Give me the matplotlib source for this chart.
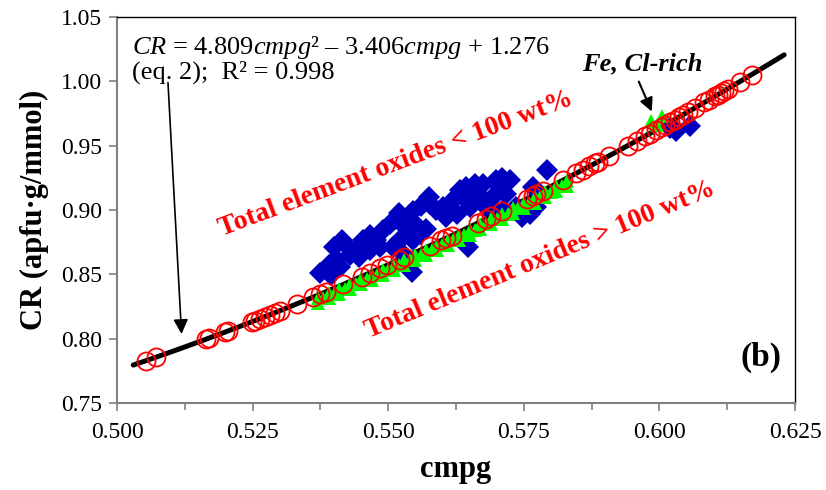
import numpy as np
import matplotlib
matplotlib.use("Agg")
import matplotlib.pyplot as plt

plt.rcParams['font.family'] = ['Liberation Serif', 'DejaVu Serif']
plt.rcParams['mathtext.fontset'] = 'custom'
plt.rcParams['mathtext.rm'] = 'Liberation Serif'
plt.rcParams['mathtext.it'] = 'Liberation Serif:italic'
plt.rcParams['mathtext.bf'] = 'Liberation Serif:bold'

# fit from eq. 2: CR = a*cmpg^2 + b*cmpg + c
fit_a, fit_b, fit_c = 4.809, -3.406, 1.276
fit_range = (0.503, 0.623)

# CR recalculated (red open circles)
calc_x = [0.5054, 0.5071, 0.5164, 0.5170, 0.5199, 0.5205, 0.5248, 0.5254, 0.5263, 0.5273,
          0.5282, 0.5291, 0.5300, 0.5331, 0.5361, 0.5374, 0.5386, 0.5417, 0.5451, 0.5466,
          0.5485, 0.5497, 0.5521, 0.5530, 0.5577, 0.5598, 0.5607, 0.5617, 0.5666, 0.5681,
          0.5690, 0.5709, 0.5755, 0.5767, 0.5773, 0.5785, 0.5822, 0.5847, 0.5859, 0.5871,
          0.5881, 0.5887, 0.5908, 0.5942, 0.5958, 0.5973, 0.5982, 0.5994, 0.6004, 0.6010,
          0.6019, 0.6028, 0.6037, 0.6043, 0.6053, 0.6065, 0.6083, 0.6092, 0.6102, 0.6108,
          0.6114, 0.6120, 0.6126, 0.6148, 0.6170]
calc_y = [0.7830, 0.7855, 0.7996, 0.8005, 0.8051, 0.8060, 0.8130, 0.8140, 0.8155, 0.8171,
          0.8186, 0.8202, 0.8217, 0.8270, 0.8322, 0.8344, 0.8366, 0.8421, 0.8483, 0.8511,
          0.8546, 0.8569, 0.8614, 0.8631, 0.8722, 0.8763, 0.8781, 0.8801, 0.8900, 0.8931,
          0.8950, 0.8989, 0.9086, 0.9112, 0.9125, 0.9150, 0.9231, 0.9286, 0.9313, 0.9339,
          0.9362, 0.9375, 0.9423, 0.9501, 0.9538, 0.9573, 0.9594, 0.9622, 0.9646, 0.9660,
          0.9682, 0.9703, 0.9725, 0.9739, 0.9763, 0.9792, 0.9836, 0.9858, 0.9883, 0.9897,
          0.9912, 0.9927, 0.9942, 0.9997, 1.0052]

# oxide totals < 100 wt% (blue diamonds)
low_x = [0.5375, 0.5390, 0.5395, 0.5400, 0.5414, 0.5426, 0.5404, 0.5429, 0.5441, 0.5454,
         0.5466, 0.5478, 0.5490, 0.5503, 0.5515, 0.5527, 0.5540, 0.5537, 0.5552, 0.5546,
         0.5558, 0.5521, 0.5509, 0.5484, 0.5466, 0.5447, 0.5530, 0.5543, 0.5570, 0.5577,
         0.5589, 0.5601, 0.5607, 0.5619, 0.5632, 0.5638, 0.5626, 0.5644, 0.5650, 0.5666,
         0.5675, 0.5681, 0.5693, 0.5699, 0.5706, 0.5718, 0.5724, 0.5712, 0.5736, 0.5746,
         0.5761, 0.5767, 0.5779, 0.5792, 0.5773, 0.5647, 0.5411, 0.5660, 0.5710, 0.6020,
         0.6031, 0.6056, 0.5520, 0.5545, 0.5560, 0.5575]
low_y = [0.8510, 0.8570, 0.8495, 0.8712, 0.8764, 0.8712, 0.8622, 0.8648, 0.8687, 0.8764,
         0.8803, 0.8764, 0.8842, 0.8894, 0.8933, 0.8894, 0.8920, 0.8842, 0.8881, 0.8764,
         0.8816, 0.8764, 0.8712, 0.8712, 0.8687, 0.8635, 0.8648, 0.8518, 0.8855, 0.9050,
         0.8998, 0.9023, 0.8946, 0.9075, 0.9153, 0.9101, 0.8972, 0.9179, 0.9023, 0.9128,
         0.9205, 0.9023, 0.9101, 0.9231, 0.9179, 0.9128, 0.9231, 0.8998, 0.9023, 0.8946,
         0.8972, 0.9179, 0.9128, 0.9309, 0.9023, 0.8712, 0.8557, 0.9200, 0.9250, 0.9640,
         0.9615, 0.9650, 0.8980, 0.8990, 0.9030, 0.9100]

# oxide totals > 100 wt% (green triangles)
high_x = [0.537, 0.537, 0.538, 0.539, 0.539, 0.540, 0.541, 0.541, 0.542, 0.543, 0.543,
          0.544, 0.545, 0.545, 0.546, 0.547, 0.547, 0.548, 0.549, 0.549, 0.550, 0.551,
          0.551, 0.552, 0.553, 0.553, 0.554, 0.555, 0.555, 0.556, 0.557, 0.557, 0.558,
          0.559, 0.559, 0.560, 0.561, 0.561, 0.562, 0.563, 0.563, 0.564, 0.565, 0.565,
          0.566, 0.567, 0.567, 0.568, 0.569, 0.569, 0.570, 0.571, 0.571, 0.572, 0.573,
          0.573, 0.574, 0.575, 0.575, 0.576, 0.577, 0.577, 0.578, 0.579, 0.579, 0.580,
          0.581, 0.581, 0.582, 0.583, 0.583, 0.5985, 0.5995, 0.6004]
high_y = [0.8317, 0.8277, 0.8315, 0.8353, 0.8313, 0.8351, 0.8389, 0.8349, 0.8387, 0.8425, 0.8385,
          0.8423, 0.8461, 0.8421, 0.8460, 0.8498, 0.8458, 0.8497, 0.8535, 0.8495, 0.8534, 0.8573,
          0.8533, 0.8572, 0.8611, 0.8571, 0.8610, 0.8650, 0.8610, 0.8649, 0.8689, 0.8649, 0.8688,
          0.8728, 0.8688, 0.8727, 0.8767, 0.8727, 0.8767, 0.8807, 0.8767, 0.8808, 0.8848, 0.8808,
          0.8848, 0.8889, 0.8849, 0.8889, 0.8930, 0.8890, 0.8930, 0.8971, 0.8931, 0.8972, 0.9013,
          0.8973, 0.9014, 0.9055, 0.9015, 0.9057, 0.9098, 0.9058, 0.9100, 0.9141, 0.9101, 0.9143,
          0.9185, 0.9145, 0.9186, 0.9228, 0.9188, 0.9690, 0.9660, 0.9730]

fig = plt.figure(figsize=(8.26, 4.90), dpi=100)
ax = fig.add_axes([117 / 826, 87 / 490, 678 / 826, 386 / 490])

xf = np.linspace(fit_range[0], fit_range[1], 200)
ax.plot(xf, fit_a * xf**2 + fit_b * xf + fit_c, color='black', lw=3.6, zorder=2,
        solid_capstyle='round')
ax.plot(low_x, low_y, 'D', color='#0000C0', ms=11.5, mew=0, ls='none', zorder=3)
ax.plot(high_x, high_y, '^', color='#00FF00', ms=9.5, mew=0, ls='none', zorder=4)
ax.plot(calc_x, calc_y, 'o', mfc='none', mec='#FF0000', ms=13, mew=1.3, ls='none', zorder=5)

ax.set_xlim(0.500, 0.625)
ax.set_ylim(0.75, 1.05)
ax.set_xticks(np.arange(0.500, 0.6251, 0.025))
ax.set_xticks(np.arange(0.5125, 0.625, 0.025), minor=True)
ax.set_yticks(np.arange(0.75, 1.0501, 0.05))
ax.set_xticklabels(['%.3f' % v for v in np.arange(0.500, 0.6251, 0.025)])
ax.set_yticklabels(['%.2f' % v for v in np.arange(0.75, 1.0501, 0.05)])
ax.tick_params(axis='both', which='both', direction='out', labelsize=17,
               color='#808080', width=1.2)
ax.tick_params(axis='both', which='major', length=6)
ax.tick_params(axis='x', which='major', pad=8)
ax.tick_params(axis='y', which='major', pad=5)
ax.tick_params(axis='x', which='minor', length=5)
for side in ['left', 'bottom']:
    ax.spines[side].set_color('#808080')
    ax.spines[side].set_linewidth(1.5)
for side in ['top', 'right']:
    ax.spines[side].set_color('black')
    ax.spines[side].set_linewidth(1.0)

ax.set_xlabel('cmpg', fontsize=22, fontweight='bold', labelpad=8)
ax.set_ylabel('CR (apfu\u00b7g/mmol)', fontsize=22, fontweight='bold', labelpad=8)

ax.text(0.5027, 1.037,
        '$\\mathit{CR}$ = 4.809$\\mathit{cmpg}$\u00b2 \u2013 3.406$\\mathit{cmpg}$ + 1.276\n'
        '(eq. 2);  R\u00b2 = 0.998',
        fontsize=19, va='top', ha='left', linespacing=1.0)
ax.annotate('', xy=(0.5119, 0.8036), xytext=(0.5094, 0.9990),
            arrowprops=dict(arrowstyle='-|>', color='black', lw=1.2,
                            mutation_scale=22, shrinkA=0, shrinkB=0))

ax.text(0.5969, 1.0140, 'Fe, Cl-rich', fontsize=19, fontweight='bold',
        fontstyle='italic', ha='center', va='center')
ax.annotate('', xy=(0.5986, 0.9765), xytext=(0.5962, 0.9998),
            arrowprops=dict(arrowstyle='-|>', color='black', lw=1.5,
                            mutation_scale=20, shrinkA=0, shrinkB=0))

ax.text(0.5514, 0.9355, 'Total element oxides < 100 wt%', fontsize=20, fontweight='bold',
        color='#FF0000', rotation=20.5, rotation_mode='anchor', ha='center', va='center')
ax.text(0.5781, 0.8609, 'Total element oxides > 100 wt%', fontsize=20, fontweight='bold',
        color='#FF0000', rotation=22.5, rotation_mode='anchor', ha='center', va='center')

ax.text(0.6188, 0.7855, '(b)', fontsize=24, fontweight='bold', ha='center', va='center')

fig.savefig('out.png', dpi=100)
